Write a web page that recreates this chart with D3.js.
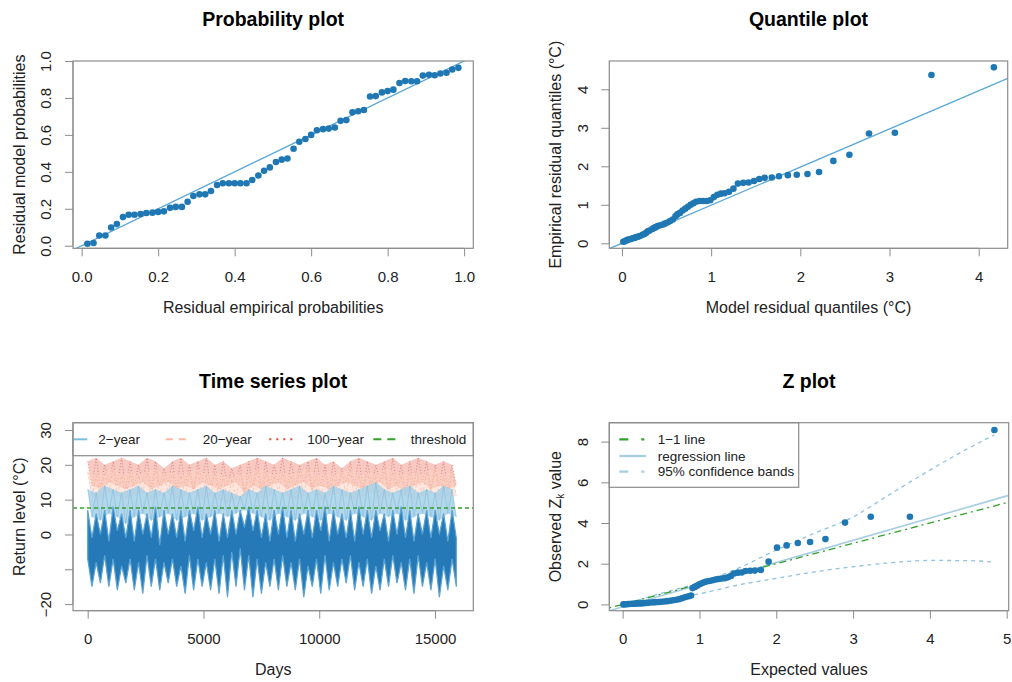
<!DOCTYPE html>
<html lang="en">
<head>
<meta charset="UTF-8">
<title>Residual diagnostics</title>
<script src="https://d3js.org/d3.v7.min.js"></script>
<style>
  body { margin: 0; background: #fff; font-family: "Liberation Sans", Arial, sans-serif; }
  svg text { fill: #222; }
  .title { font-weight: bold; font-size: 19.5px; fill: #000; }
  .axis-title { font-size: 16px; }
  .legend-text { font-size: 13.5px; }
</style>
</head>
<body>
<svg id="chart" width="1012" height="682"></svg>
<script>
// ---- probability plot ----
const probEmpirical = [0.015,0.031,0.046,0.062,0.077,0.092,0.108,0.123,0.138,0.154,
  0.169,0.185,0.2,0.215,0.231,0.246,0.262,0.277,0.292,0.308,
  0.323,0.338,0.354,0.369,0.385,0.4,0.415,0.431,0.446,0.462,
  0.477,0.492,0.508,0.523,0.538,0.554,0.569,0.585,0.6,0.615,
  0.631,0.646,0.662,0.677,0.692,0.708,0.723,0.738,0.754,0.769,
  0.785,0.8,0.815,0.831,0.846,0.862,0.877,0.892,0.908,0.923,
  0.938,0.954,0.969,0.985];
const probModel = [0.011,0.015,0.055,0.055,0.099,0.117,0.155,0.168,0.168,0.172,
  0.177,0.179,0.183,0.186,0.205,0.21,0.21,0.238,0.269,0.278,
  0.278,0.296,0.329,0.338,0.338,0.338,0.338,0.338,0.356,0.38,
  0.406,0.424,0.453,0.466,0.472,0.525,0.563,0.578,0.6,0.625,
  0.631,0.634,0.64,0.676,0.68,0.722,0.728,0.735,0.808,0.81,
  0.83,0.837,0.845,0.881,0.892,0.89,0.89,0.921,0.925,0.923,
  0.932,0.936,0.954,0.963];

// ---- quantile plot ----
const quantModel = [0.015,0.03,0.05,0.06,0.08,0.1,0.12,0.14,0.16,0.18,0.2,0.23,0.25,0.27,0.29,0.31,
  0.34,0.36,0.38,0.4,0.43,0.46,0.48,0.51,0.54,0.57,0.6,0.62,0.65,0.68,0.71,0.74,0.77,0.8,0.83,
  0.87,0.91,0.95,0.99,1.03,1.07,1.11,1.15,1.2,1.25,1.3,1.36,1.42,1.48,1.54,1.6,1.68,1.76,1.86,
  1.96,2.08,2.21,2.37,2.55,2.77,3.06,3.47,4.17];
const quantEmpirical = [0.04,0.05,0.07,0.09,0.1,0.11,0.13,0.14,0.16,0.17,0.19,0.22,0.24,0.27,0.31,0.33,
  0.37,0.4,0.42,0.45,0.47,0.49,0.51,0.54,0.58,0.62,0.7,0.75,0.79,0.85,0.9,0.95,1.0,1.04,1.08,
  1.1,1.1,1.1,1.12,1.2,1.26,1.29,1.3,1.34,1.42,1.55,1.57,1.58,1.62,1.67,1.7,1.71,1.74,1.77,
  1.78,1.8,1.85,2.14,2.3,2.85,2.87,4.37,4.57];

// ---- time series plot (per year: summer / winter extremes, °C) ----
const obsSummerHigh = [7,6,7,8,6,7,7,6,8,7,6,7,7,8,6,7,6,7,7,8,7,6,7,8,7,6,7,7,8,7,6,7,8,7,7,6,7,8,7,6,7,7,6,7];
const obsSummerLow = [-7,-8,-6,-7,-9,-7,-8,-6,-7,-8,-7,-9,-6,-7,-8,-7,-6,-5,-4,-6,-7,-8,-7,-6,-8,-7,-9,-7,-6,-8,-7,-6,-8,-7,-9,-7,-6,-8,-7,-6,-8,-7,-9,-7];
const obsWinterHigh = [-1,0,-2,1,-1,-2,0,-1,-3,0,-1,-2,1,-1,0,-2,-1,0,2,1,-1,-2,0,-1,-2,0,-1,1,-2,0,-1,-2,0,-1,1,-2,0,-1,-2,0,-1,0,-2,-1];
const obsWinterLow = [-15,-14,-15,-16,-14,-16,-17,-15,-16,-14,-15,-17,-16,-15,-16,-17,-18,-15,-16,-18,-17,-15,-16,-15,-16,-18,-15,-17,-16,-15,-14,-16,-15,-17,-16,-15,-14,-16,-17,-15,-16,-18,-16,-15];
const rl2High = [13,12,14,13,12,13,14,12,13,12,14,13,12,13,14,12,13,12,11,13,12,14,13,12,13,14,12,13,12,14,13,12,13,14,15,13,12,13,14,12,13,12,14,13];
const rl2Low = [5,4,6,5,3,5,6,4,5,6,4,5,6,4,5,6,5,6,7,6,5,4,6,5,4,6,5,4,6,5,4,6,5,4,6,5,6,4,5,6,5,4,6,5];
const rl20High = [18,17,18,19,17,18,17,18,19,17,18,17,18,19,17,18,17,16,18,17,19,18,17,18,17,18,19,17,18,17,18,19,17,18,17,19,18,17,18,17,18,19,17,18];
const rl20Low = [11,10,12,11,10,11,12,10,11,12,10,11,12,10,11,10,9,10,11,12,10,11,12,11,10,11,12,10,11,12,11,10,11,12,10,11,12,11,10,11,12,10,11,11];
const rl100High = [21,22,20,21,22,21,20,22,21,19,21,22,20,21,22,20,21,19,20,21,22,21,20,22,21,20,21,22,20,21,19,21,22,21,20,21,22,20,21,22,21,20,21,20];
const rl100Low = [14,13,15,14,13,14,15,13,14,15,13,14,13,15,14,13,14,15,12,14,13,14,15,13,14,15,13,14,13,14,15,14,13,14,15,13,14,12,14,15,13,14,13,14];
const threshold = 7.6;

// ---- Z plot ----
const zExpected = [0.01,0.03,0.05,0.07,0.09,0.12,0.15,0.18,0.21,0.24,0.27,0.3,0.33,0.36,0.4,0.43,0.47,0.5,
  0.54,0.58,0.62,0.66,0.7,0.74,0.78,0.82,0.86,0.89,0.91,0.94,0.97,1.0,1.03,1.06,1.09,1.13,1.17,1.21,
  1.25,1.29,1.33,1.37,1.41,1.45,1.5,1.55,1.6,1.66,1.72,1.8,1.9,2.01,2.135,2.28,2.44,2.64,2.895,3.23,3.74,4.84];
const zObserved = [0,0.01,0.01,0.02,0.02,0.03,0.03,0.04,0.05,0.05,0.06,0.07,0.08,0.09,0.1,0.11,0.12,0.13,
  0.14,0.16,0.18,0.2,0.23,0.26,0.31,0.36,0.4,0.44,0.8,0.86,0.92,0.99,1.04,1.09,1.12,1.15,1.19,1.22,
  1.25,1.27,1.29,1.33,1.4,1.52,1.56,1.57,1.64,1.65,1.66,1.69,2.1,2.79,2.9,3.02,3.07,3.21,4.02,4.31,4.31,8.57];
const bandX = [0,0.5,1,1.5,2,2.5,3,3.5,4,4.5,4.84];
const bandUpper = [0,0.54,1.07,1.77,2.67,3.5,4.3,5.46,6.6,7.67,8.33];
const bandLower = [0,0.2,0.52,0.95,1.28,1.6,1.85,2.05,2.16,2.15,2.08];
const regIntercept = -0.12, regSlope = 1.09;

const svg = d3.select('#chart');
const boxColor = '#8c8c8c';
const dotColor = '#1f78b4';

function panel(id, box, xDomain, yDomain) {
  const g = svg.append('g').attr('id', id);
  const x = d3.scaleLinear().domain(xDomain).range([box.left, box.right]);
  const y = d3.scaleLinear().domain(yDomain).range([box.bottom, box.top]);
  g.append('clipPath').attr('id', id + '-clip').append('rect')
    .attr('x', box.left).attr('y', box.top)
    .attr('width', box.right - box.left).attr('height', box.bottom - box.top);
  const plot = g.append('g').attr('clip-path', `url(#${id}-clip)`);
  return { g, plot, x, y, box };
}

function axes(p, xTicks, yTicks, fmt, skipY) {
  const { g, x, y, box } = p;
  const xa = g.append('g').attr('transform', `translate(0,${box.bottom})`)
    .call(d3.axisBottom(x).tickValues(xTicks).tickFormat(fmt).tickSize(8).tickSizeOuter(0).tickPadding(15));
  const ya = g.append('g').attr('transform', `translate(${box.left},0)`)
    .call(d3.axisLeft(y).tickValues(yTicks).tickFormat(d => (skipY && skipY.includes(d)) ? '' : fmt(d)).tickSize(8).tickSizeOuter(0));
  [xa, ya].forEach(a => {
    a.select('.domain').remove();
    a.selectAll('line').attr('stroke', boxColor);
    a.selectAll('text').style('font-size', '15px').attr('fill', '#222')
      .style('font-family', '"Liberation Sans", Arial, sans-serif');
  });
  // axis lines between first and last tick
  g.append('line').attr('x1', x(xTicks[0])).attr('x2', x(xTicks[xTicks.length - 1]))
    .attr('y1', box.bottom).attr('y2', box.bottom).attr('stroke', boxColor);
  g.append('line').attr('y1', y(yTicks[0])).attr('y2', y(yTicks[yTicks.length - 1]))
    .attr('x1', box.left).attr('x2', box.left).attr('stroke', boxColor);
  ya.selectAll('text').attr('x', null).attr('dy', '0.36em')
    .attr('text-anchor', 'middle').attr('transform', 'translate(-27,0) rotate(-90)');
}

function frame(p) {
  const b = p.box;
  p.g.append('rect').attr('x', b.left).attr('y', b.top)
    .attr('width', b.right - b.left).attr('height', b.bottom - b.top)
    .attr('fill', 'none').attr('stroke', boxColor).attr('stroke-width', 1.2);
}

function labels(p, title, xTitle, yTitle) {
  const b = p.box, cx = (b.left + b.right) / 2, cy = (b.top + b.bottom) / 2;
  p.g.append('text').attr('class', 'title').attr('x', cx).attr('y', b.top - 42)
    .attr('text-anchor', 'middle').attr('dominant-baseline', 'central').text(title);
  p.g.append('text').attr('class', 'axis-title').attr('x', cx).attr('y', b.bottom + 59)
    .attr('text-anchor', 'middle').attr('dominant-baseline', 'central').text(xTitle);
  const yt = p.g.append('text').attr('class', 'axis-title')
    .attr('transform', `translate(${b.left - 54},${cy}) rotate(-90)`)
    .attr('text-anchor', 'middle').attr('dominant-baseline', 'central');
  if (typeof yTitle === 'string') yt.text(yTitle); else yTitle(yt);
}

function abline(p, a, b, color, width, dash) {
  const [x0, x1] = p.x.domain();
  p.plot.append('line').attr('x1', p.x(x0)).attr('y1', p.y(a + b * x0))
    .attr('x2', p.x(x1)).attr('y2', p.y(a + b * x1))
    .attr('stroke', color).attr('stroke-width', width).attr('stroke-dasharray', dash || null);
}

function dots(p, xs, ys) {
  p.plot.selectAll('circle.pt').data(xs).join('circle').attr('class', 'pt')
    .attr('cx', d => p.x(d)).attr('cy', (d, i) => p.y(ys[i])).attr('r', 3.3).attr('fill', dotColor);
}

// ================= Probability plot =================
const p1 = panel('prob', { left: 73, right: 473.3, top: 61, bottom: 248.3 }, [-0.0227, 1.024], [-0.014, 1.0]);
abline(p1, 0, 1, '#5aa7d9', 1.3);
dots(p1, probEmpirical, probModel);
axes(p1, [0, 0.2, 0.4, 0.6, 0.8, 1.0], [0, 0.2, 0.4, 0.6, 0.8, 1.0], d3.format('.1f'));
frame(p1);
labels(p1, 'Probability plot', 'Residual empirical probabilities', 'Residual model probabilities');

// ================= Quantile plot =================
const p2 = panel('quant', { left: 609.3, right: 1007.7, top: 61, bottom: 248.3 }, [-0.142, 4.325], [-0.13, 4.735]);
abline(p2, 0, 0.99, '#5aa7d9', 1.3);
dots(p2, quantModel, quantEmpirical);
axes(p2, [0, 1, 2, 3, 4], [0, 1, 2, 3, 4], d3.format('d'));
frame(p2);
labels(p2, 'Quantile plot', 'Model residual quantiles (°C)', 'Empirical residual quantiles (°C)');

// ================= Time series plot =================
const p3 = panel('ts', { left: 73, right: 473.3, top: 422.7, bottom: 610.7 }, [-635, 16654], [-21.9, 32.1]);
const yearLen = 366, halfLen = 183;
const tsLine = d3.line().x(d => p3.x(d[0])).y(d => p3.y(d[1]));

function band(high, low, fill, fillOpacity, stroke, strokeOpacity, dash) {
  const upper = high.map((v, k) => [k * yearLen, v]);
  const lower = low.map((v, k) => [k * yearLen + halfLen, v]);
  p3.plot.append('path').attr('d', tsLine(upper.concat(lower.slice().reverse())) + 'Z')
    .attr('fill', fill).attr('fill-opacity', fillOpacity);
  const zig = [];
  high.forEach((v, k) => { zig.push(upper[k], lower[k]); });
  p3.plot.append('path').attr('d', tsLine(zig)).attr('fill', 'none')
    .attr('stroke', stroke).attr('stroke-opacity', strokeOpacity).attr('stroke-width', 1)
    .attr('stroke-dasharray', dash || null);
}
band(rl100High, rl100Low, '#e8786a', 0.4, '#d7301f', 0.5, '1,2');
band(rl20High, rl20Low, '#fdd3c2', 0.55, '#f4a28a', 0.45, '3,2');
band(rl2High, rl2Low, '#a6d0e8', 0.85, '#7cb8dc', 0.5);

// observations: seasonal band with daily spread
const obsUpper = [], obsLower = [];
obsSummerHigh.forEach((v, k) => {
  obsUpper.push([k * yearLen, v], [k * yearLen + halfLen, obsWinterHigh[k]]);
  obsLower.push([k * yearLen, obsSummerLow[k]], [k * yearLen + halfLen, obsWinterLow[k]]);
});
p3.plot.append('path').attr('d', tsLine(obsUpper.concat(obsLower.slice().reverse())) + 'Z')
  .attr('fill', '#2479b6').attr('stroke', '#5aa3d4').attr('stroke-width', 1.2);

p3.plot.append('line').attr('x1', p3.box.left).attr('x2', p3.box.right)
  .attr('y1', p3.y(threshold)).attr('y2', p3.y(threshold))
  .attr('stroke', '#33a02c').attr('stroke-width', 1.3).attr('stroke-dasharray', '4,3');

axes(p3, [0, 5000, 10000, 15000], [-20, -10, 0, 10, 20, 30], d3.format('d'), [-10]);

// legend across the top of the box
const tsLegend = [
  { label: '2\u2212year', color: '#7fbde0', dash: null, x1: 73.3, x2: 87.3, tx: 98.3, w: 2 },
  { label: '20\u2212year', color: '#fcbba1', dash: '7,6', x1: 165.7, x2: 190, tx: 202.7, w: 2 },
  { label: '100\u2212year', color: '#e34a33', dash: '2,5', x1: 269.3, x2: 295, tx: 307.3, w: 2 },
  { label: 'threshold', color: '#33a02c', dash: '8,6', x1: 373.3, x2: 396.7, tx: 410.7, w: 2 }
];
const lg3 = p3.g.append('g');
lg3.append('rect').attr('x', p3.box.left).attr('y', p3.box.top)
  .attr('width', p3.box.right - p3.box.left).attr('height', 33)
  .attr('fill', '#fff').attr('stroke', boxColor).attr('stroke-width', 1.2);
tsLegend.forEach(e => {
  lg3.append('line').attr('x1', e.x1).attr('x2', e.x2).attr('y1', 439.3).attr('y2', 439.3)
    .attr('stroke', e.color).attr('stroke-width', e.w).attr('stroke-dasharray', e.dash);
  lg3.append('text').attr('class', 'legend-text').attr('x', e.tx).attr('y', 439.3)
    .attr('dominant-baseline', 'central').text(e.label);
});
frame(p3);
labels(p3, 'Time series plot', 'Days', 'Return level (°C)');

// ================= Z plot =================
const p4 = panel('z', { left: 609.3, right: 1008.7, top: 422.7, bottom: 610.7 }, [-0.174, 5.026], [-0.31, 8.93]);
const bandLine = d3.line().curve(d3.curveMonotoneX).x((d, i) => p4.x(bandX[i])).y(d => p4.y(d));
[bandUpper, bandLower].forEach(b => {
  p4.plot.append('path').attr('d', bandLine(b)).attr('fill', 'none')
    .attr('stroke', '#8ec3e6').attr('stroke-width', 1.3).attr('stroke-dasharray', '4,4');
});
abline(p4, regIntercept, regSlope, '#a6cee3', 1.6);
abline(p4, 0, 1, '#33a02c', 1.3, '2,4,7,4');
dots(p4, zExpected, zObserved);
axes(p4, [0, 1, 2, 3, 4, 5], [0, 2, 4, 6, 8], d3.format('d'));

const zLegend = [
  { label: '1\u22121 line', color: '#33a02c', dash: '9,13,3,40', y: 439.3 },
  { label: 'regression line', color: '#a6cee3', dash: null, y: 456 },
  { label: '95% confidence bands', color: '#a6cee3', dash: '9,13,3,40', y: 471.7 }
];
const lg4 = p4.g.append('g');
lg4.append('rect').attr('x', 609.3).attr('y', 422.7).attr('width', 189.4).attr('height', 64.6)
  .attr('fill', '#fff').attr('stroke', boxColor).attr('stroke-width', 1.2);
zLegend.forEach(e => {
  lg4.append('line').attr('x1', 619.3).attr('x2', 646).attr('y1', e.y).attr('y2', e.y)
    .attr('stroke', e.color).attr('stroke-width', 2.2).attr('stroke-dasharray', e.dash);
  lg4.append('text').attr('class', 'legend-text').attr('x', 657.7).attr('y', e.y)
    .attr('dominant-baseline', 'central').text(e.label);
});
frame(p4);
labels(p4, 'Z plot', 'Expected values', t => {
  t.append('tspan').text('Observed Z');
  t.append('tspan').attr('baseline-shift', 'sub').style('font-size', '10px').text('k');
  t.append('tspan').text(' value');
});
</script>
</body>
</html>
